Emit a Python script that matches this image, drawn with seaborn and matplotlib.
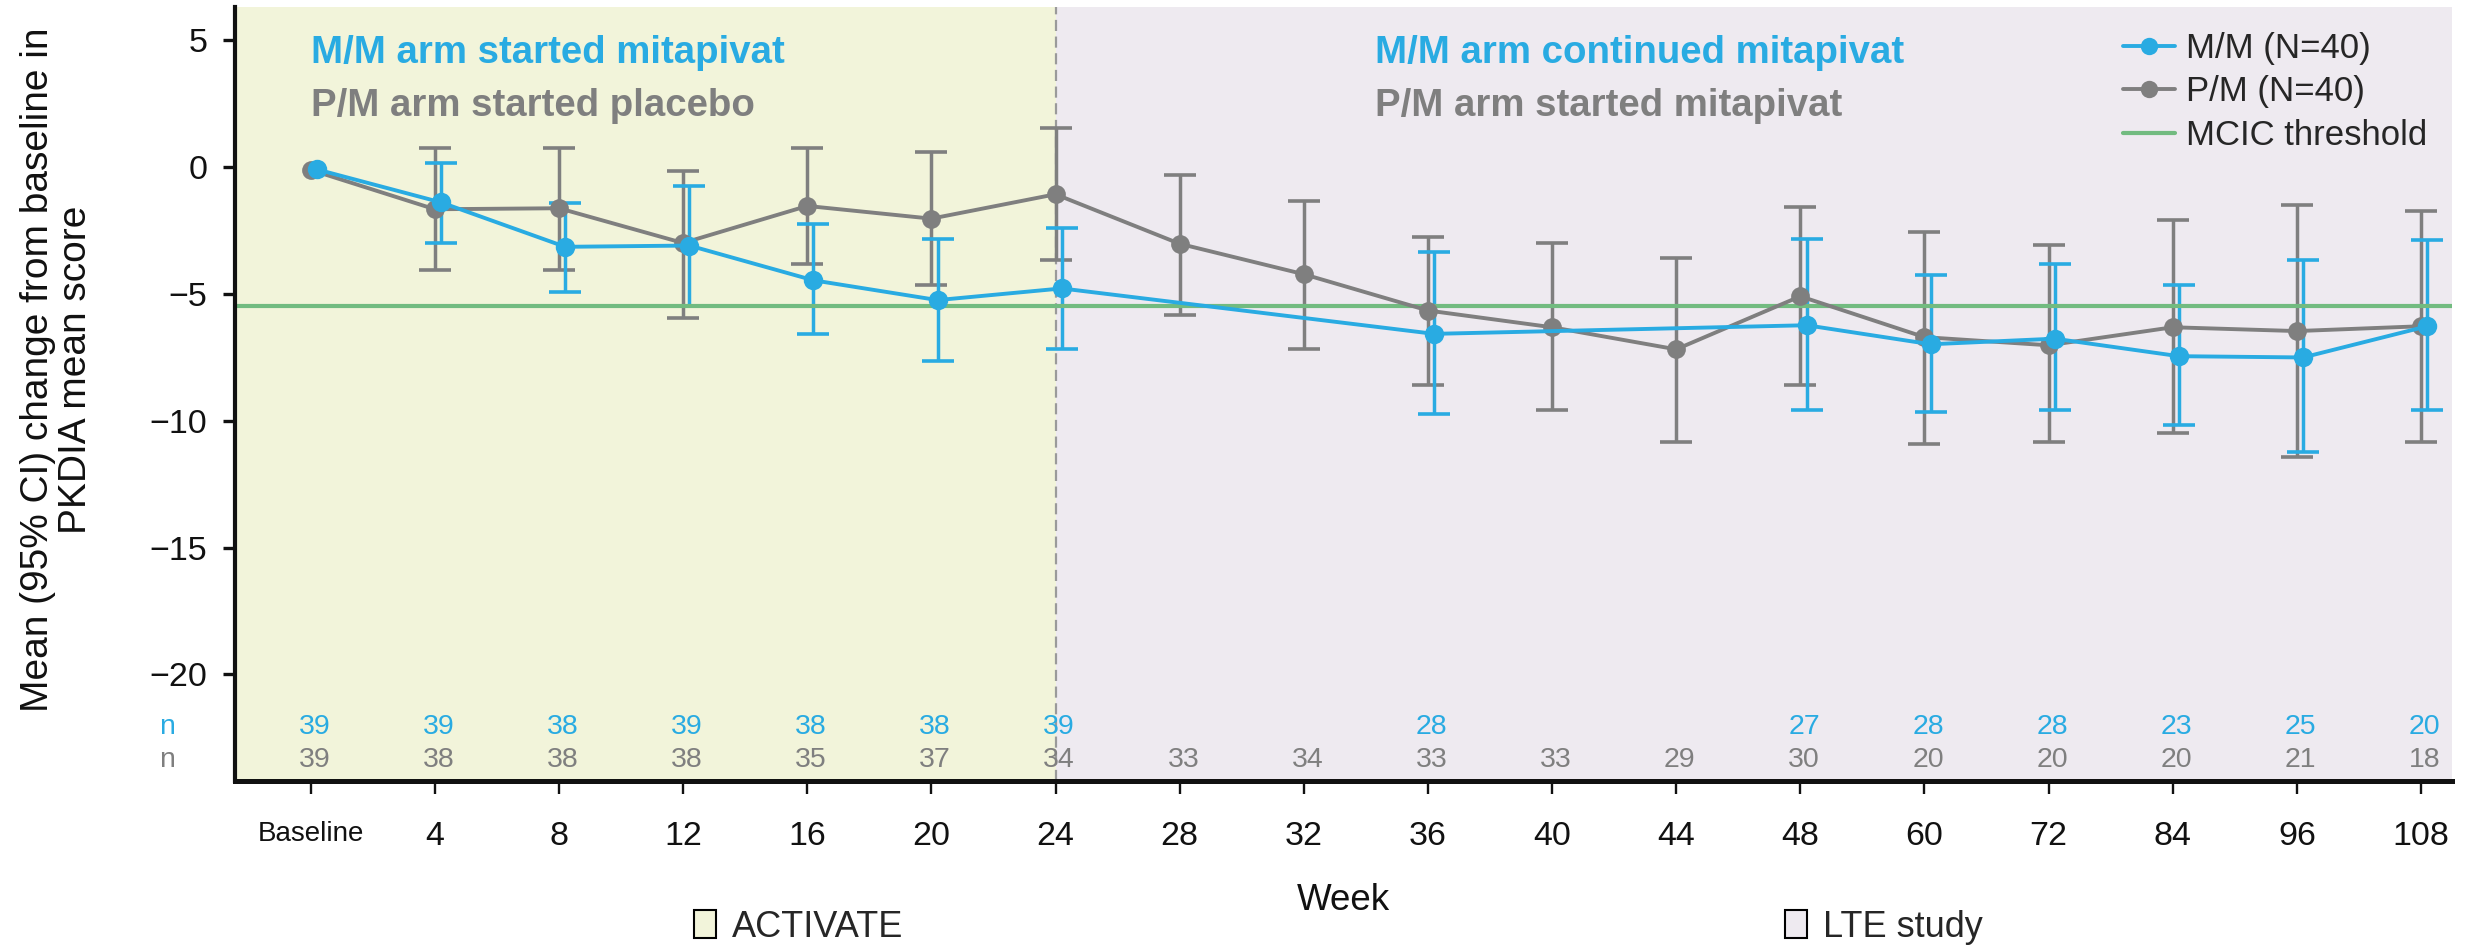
import numpy as np
import pandas as pd
import matplotlib
matplotlib.use("Agg")
import matplotlib.pyplot as plt
import seaborn as sns
from matplotlib.patches import Patch
from matplotlib.lines import Line2D

nan = np.nan

# ---------------- data ----------------
weeks = ['Baseline', '4', '8', '12', '16', '20', '24', '28', '32', '36',
         '40', '44', '48', '60', '72', '84', '96', '108']

mm_mean = [-0.1, -1.4, -3.15, -3.1, -4.47, -5.25, -4.79, nan, nan, -6.58,
           nan, nan, -6.24, -6.99, -6.77, -7.46, -7.51, -6.28]
mm_lo = [nan, -3.0, -4.93, -5.5, -6.58, -7.66, -7.16, nan, nan, -9.74,
         nan, nan, -9.6, -9.67, -9.58, -10.17, -11.25, -9.58]
mm_hi = [nan, 0.17, -1.42, -0.75, -2.25, -2.83, -2.41, nan, nan, -3.35,
         nan, nan, -2.83, -4.26, -3.84, -4.66, -3.67, -2.9]

pm_mean = [-0.12, -1.67, -1.63, -3.0, -1.54, -2.04, -1.08, -3.03, -4.23, -5.66,
           -6.32, -7.19, -5.1, -6.71, -7.03, -6.32, -6.47, -6.28]
pm_lo = [nan, -4.07, -4.07, -5.94, -3.84, -4.66, -3.66, -5.83, -7.16, -8.59,
         -9.58, -10.83, -8.6, -10.91, -10.83, -10.49, -11.42, -10.83]
pm_hi = [nan, 0.74, 0.74, -0.17, 0.74, 0.59, 1.52, -0.33, -1.34, -2.76,
         -3.0, -3.58, -1.59, -2.58, -3.09, -2.08, -1.51, -1.74]

mm_n = [39, 39, 38, 39, 38, 38, 39, None, None, 28, None, None, 27, 28, 28, 23, 25, 20]
pm_n = [39, 38, 38, 38, 35, 37, 34, 33, 34, 33, 33, 29, 30, 20, 20, 20, 21, 18]

mcic = -5.5
yticks = [5, 0, -5, -10, -15, -20]

labels_arm = ['M/M (N=40)', 'P/M (N=40)', 'MCIC threshold']
texts_left = ['M/M arm started mitapivat', 'P/M arm started placebo']
texts_right = ['M/M arm continued mitapivat', 'P/M arm started mitapivat']
phase_labels = ['ACTIVATE', 'LTE study']

# ---------------- style ----------------
BLUE = '#29abe2'
GRAY = '#7f7f7f'
GREEN = '#72bb80'
ACT_BG = '#f2f4da'
LTE_BG = '#eeeaf0'
TXT = '#111111'

sns.set_theme(style='white')
plt.rcParams['font.family'] = ['Liberation Sans', 'DejaVu Sans']

fig = plt.figure(figsize=(24.71, 9.46), dpi=100)
ax = fig.add_axes([235 / 2471, 1 - 781 / 946, (2452 - 235) / 2471, (781 - 7) / 946])

xl, xr = -0.61, 17.25
yb, yt = -24.2, 6.3
ax.set_xlim(xl, xr)
ax.set_ylim(yb, yt)

ax.axvspan(xl, 6, color=ACT_BG, zorder=0, lw=0)
ax.axvspan(6, xr, color=LTE_BG, zorder=0, lw=0)
ax.axvline(6, color='#9a9a9a', lw=1.6, ls=(0, (5, 2.5)), zorder=1)

idx = np.arange(len(weeks))
off_pm, off_mm = 0.0, 0.05

def arr(v):
    return np.array(v, dtype=float)

# error bars
for mean, lo, hi, off, col, z in [(pm_mean, pm_lo, pm_hi, off_pm, GRAY, 2.0),
                                   (mm_mean, mm_lo, mm_hi, off_mm, BLUE, 2.1)]:
    m, l, h = arr(mean), arr(lo), arr(hi)
    ok = ~np.isnan(l)
    ax.errorbar(idx[ok] + off, m[ok], yerr=[m[ok] - l[ok], h[ok] - m[ok]], fmt='none',
                ecolor=col, elinewidth=2.5, capsize=11.5, capthick=2.6, zorder=z)

ax.axhline(mcic, color=GREEN, lw=3.0, zorder=2.5)

# lines with seaborn
df_pm = pd.DataFrame({'pos': idx + off_pm, 'mean': arr(pm_mean)}).dropna()
df_mm = pd.DataFrame({'pos': idx + off_mm, 'mean': arr(mm_mean)}).dropna()
sns.lineplot(data=df_pm, x='pos', y='mean', color=GRAY, marker='o', markersize=13.5,
             markeredgewidth=0, linewidth=2.8, sort=False, errorbar=None, ax=ax, zorder=3)
sns.lineplot(data=df_mm, x='pos', y='mean', color=BLUE, marker='o', markersize=14,
             markeredgewidth=0, linewidth=2.8, sort=False, errorbar=None, ax=ax, zorder=3.1)

# n rows
y_n_mm, y_n_pm = -22.06, -23.36
for i, n in enumerate(mm_n):
    if n is not None:
        ax.text(i + 0.03, y_n_mm, str(n), color=BLUE, ha='center', va='center', fontsize=20.5)
for i, n in enumerate(pm_n):
    ax.text(i + 0.03, y_n_pm, str(n), color=GRAY, ha='center', va='center', fontsize=20.5)
ax.text(-1.16, y_n_mm, 'n', color=BLUE, ha='center', va='center', fontsize=20.5, clip_on=False)
ax.text(-1.16, y_n_pm, 'n', color=GRAY, ha='center', va='center', fontsize=20.5, clip_on=False)

# phase annotations
fs_ann = 27.6
ax.text(0.0, 4.5, texts_left[0], color=BLUE, fontsize=fs_ann, fontweight='bold', ha='left', va='center')
ax.text(0.0, 2.4, texts_left[1], color=GRAY, fontsize=fs_ann, fontweight='bold', ha='left', va='center')
ax.text(8.57, 4.5, texts_right[0], color=BLUE, fontsize=fs_ann, fontweight='bold', ha='left', va='center')
ax.text(8.57, 2.4, texts_right[1], color=GRAY, fontsize=fs_ann, fontweight='bold', ha='left', va='center')

# axes styling
for s in ['top', 'right']:
    ax.spines[s].set_visible(False)
ax.spines['left'].set_linewidth(3.0)
ax.spines['bottom'].set_linewidth(3.6)
ax.spines['left'].set_color('#111111')
ax.spines['bottom'].set_color('#111111')

ax.set_yticks(yticks)
ax.tick_params(axis='y', direction='out', length=9, width=2.4, color='#111111',
               labelsize=24.5, labelcolor=TXT, pad=11, left=True)
ax.set_xticks(idx)
ax.set_xticklabels(weeks)
ax.tick_params(axis='x', direction='out', length=9, width=1.7, color='#111111',
               labelsize=24.5, labelcolor=TXT, pad=20, bottom=True)
for lab in ax.get_xticklabels():
    if lab.get_text() == 'Baseline':
        lab.set_fontsize(20)

ax.set_xlabel('Week', fontsize=26.5, color=TXT)
ax.xaxis.set_label_coords(0.5, -0.132)
ax.set_ylabel('')
fig.text(57 / 2471, 1 - 370 / 946, 'Mean (95% CI) change from baseline in\nPKDIA mean score',
         rotation=90, ha='center', va='center', multialignment='center',
         fontsize=28, color=TXT, linespacing=1.1)

# legend (upper right)
handles = [Line2D([], [], color=BLUE, lw=2.8, marker='o', markersize=12.5, markeredgewidth=0),
           Line2D([], [], color=GRAY, lw=2.8, marker='o', markersize=12.5, markeredgewidth=0),
           Line2D([], [], color=GREEN, lw=3.0)]
ax.legend(handles, labels_arm, loc='upper right', frameon=False, fontsize=25,
          handlelength=1.5, handletextpad=0.3, labelspacing=0.3, borderaxespad=0.42,
          borderpad=0.3)

# bottom phase legends
for lab, col, x0 in [(phase_labels[0], ACT_BG, 694), (phase_labels[1], LTE_BG, 1785)]:
    fig.legend([Patch(facecolor=col, edgecolor='black', linewidth=1.5)], [lab],
               loc='center left', bbox_to_anchor=(x0 / 2471, 1 - 927 / 946),
               frameon=False, fontsize=26, handlelength=0.6, handleheight=0.82,
               handletextpad=0.45, borderpad=0, borderaxespad=0)

fig.savefig('out.png', dpi=100)
